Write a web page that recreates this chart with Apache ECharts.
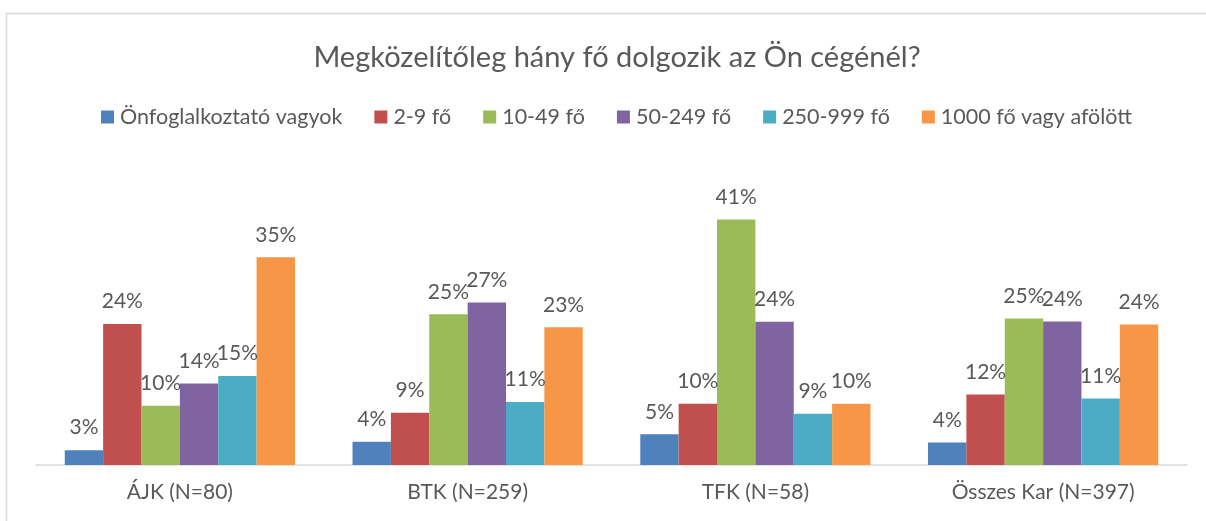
<!DOCTYPE html>
<html>
<head>
<meta charset="utf-8">
<script src="https://cdn.jsdelivr.net/npm/echarts@6/dist/echarts.min.js"></script>
<style>
  html, body { margin: 0; padding: 0; background: #fff; }
  #chart { width: 1206px; height: 521px; }
</style>
</head>
<body>
<div id="chart"></div>
<script>
// categories (faculties) and the answer groups
const categories = ['ÁJK (N=80)', 'BTK (N=259)', 'TFK (N=58)', 'Összes Kar (N=397)'];
const seriesNames = ['Önfoglalkoztató vagyok', '2-9 fő', '10-49 fő', '50-249 fő', '250-999 fő', '1000 fő vagy afölött'];

// percentages
const onfoglalkoztato = [2.5, 3.9, 5.17, 3.8];
const fo2_9 = [23.75, 8.8, 10.34, 11.9];
const fo10_49 = [10, 25.4, 41.38, 24.7];
const fo50_249 = [13.75, 27.4, 24.14, 24.2];
const fo250_999 = [15, 10.6, 8.62, 11.2];
const fo1000 = [35, 23.2, 10.34, 23.7];

const allValues = [onfoglalkoztato, fo2_9, fo10_49, fo50_249, fo250_999, fo1000];
const colors = ['#4F81BD', '#C0504D', '#9BBB59', '#8064A2', '#4BACC6', '#F79646'];

const FONT = 'Lato';
const TXT = '#595959';

const chart = echarts.init(document.getElementById('chart'));

const series = allValues.map((vals, i) => ({
  name: seriesNames[i],
  type: 'bar',
  data: vals,
  barGap: '0%',
  barCategoryGap: '20%',
  itemStyle: { color: colors[i] },
  label: {
    show: true,
    position: 'top',
    distance: 12,
    color: TXT,
    fontFamily: FONT,
    fontSize: 21,
    formatter: p => Math.round(p.value) + '%'
  }
}));

chart.setOption({
  animation: false,
  graphic: [{
    type: 'rect',
    shape: { x: 6.5, y: 13.5, width: 1400, height: 700 },
    style: { fill: 'none', stroke: '#d9d9d9', lineWidth: 1.5 },
    silent: true
  }],
  title: {
    text: 'Megközelítőleg hány fő dolgozik az Ön cégénél?',
    left: 617,
    textAlign: 'center',
    top: 43,
    padding: 0,
    textStyle: { fontFamily: FONT, fontSize: 29, fontWeight: 'normal', color: TXT }
  },
  legend: {
    data: seriesNames,
    left: 101,
    top: 106,
    padding: 0,
    itemWidth: 13,
    itemHeight: 13,
    itemGap: 32,
    icon: 'rect',
    textStyle: { fontFamily: FONT, fontSize: 21.5, color: TXT, padding: [0, 0, 0, 1] }
  },
  grid: { left: 36, right: 19, top: 198, bottom: 56, containLabel: false },
  xAxis: {
    type: 'category',
    data: categories,
    axisLine: { lineStyle: { color: '#d9d9d9', width: 1.5 } },
    axisTick: { show: false },
    axisLabel: { color: TXT, fontFamily: FONT, fontSize: 21, margin: 17 }
  },
  yAxis: {
    type: 'value',
    min: 0,
    max: 45,
    show: false,
    splitLine: { show: false }
  },
  series: series
});
</script>
</body>
</html>
